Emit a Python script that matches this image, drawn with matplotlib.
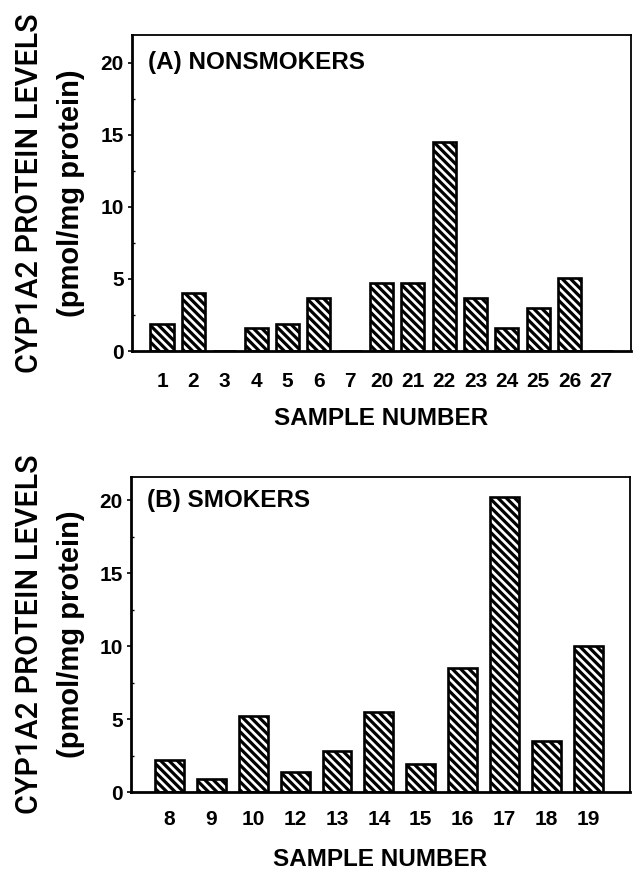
import matplotlib
matplotlib.use("Agg")
import matplotlib.pyplot as plt
from matplotlib.ticker import MultipleLocator
from matplotlib import font_manager

# ---- data ----
nonsmoker_samples = ["1", "2", "3", "4", "5", "6", "7", "20", "21", "22", "23", "24", "25", "26", "27"]
nonsmoker_levels = [1.9, 4.0, 0, 1.6, 1.9, 3.7, 0, 4.7, 4.7, 14.5, 3.7, 1.6, 3.0, 5.1, 0]

smoker_samples = ["8", "9", "10", "12", "13", "14", "15", "16", "17", "18", "19"]
smoker_levels = [2.2, 0.9, 5.2, 1.4, 2.8, 5.5, 1.9, 8.5, 20.2, 3.5, 10.0]

ylabel_line1 = "CYP1A2 PROTEIN LEVELS"
ylabel_line2 = "(pmol/mg protein)"
xlabel = "SAMPLE NUMBER"
titles = ["(A) NONSMOKERS", "(B) SMOKERS"]

plt.rcParams['hatch.linewidth'] = 2.3
plt.rcParams['font.family'] = ['Liberation Sans', 'DejaVu Sans']

names = {f.name for f in font_manager.fontManager.ttflist}
narrow = 'Liberation Sans Narrow' in names
title_family = ['Liberation Sans Narrow', 'Liberation Sans'] if narrow else ['Liberation Sans']
title_size = 21 if narrow else 17.5
label_size = 21 if narrow else 17.5

roboto_medium = any(f.name == 'Roboto' and f.weight in (500, 'medium') for f in font_manager.fontManager.ttflist)

W, H = 634, 872
fig = plt.figure(figsize=(W / 100, H / 100), dpi=100)


def px_axes(left, top, right, bottom):
    return fig.add_axes([left / W, 1 - bottom / H, (right - left) / W, (bottom - top) / H])


panels = [
    dict(box=(132, 35, 631, 351), cats=nonsmoker_samples, vals=nonsmoker_levels,
         title=titles[0], xlim=(-0.96, 14.96), ylim=(0, 21.94), width=0.74, pad=15),
    dict(box=(131, 477, 630, 792), cats=smoker_samples, vals=smoker_levels,
         title=titles[1], xlim=(-0.92, 11.0), ylim=(0, 21.6), width=0.69, pad=13),
]

for p in panels:
    l, t, r, b = p['box']
    ax = px_axes(l, t, r, b)
    x = list(range(len(p['cats'])))
    ax.bar(x, p['vals'], width=p['width'], color='white', edgecolor='black',
           linewidth=1.9, hatch='\\\\\\\\', zorder=2)
    ax.set_xlim(*p['xlim'])
    ax.set_ylim(*p['ylim'])
    ax.set_xticks(x)
    ax.set_xticklabels(p['cats'], fontsize=15, fontweight='bold')
    ax.tick_params(axis='x', length=0, pad=p['pad'])
    ax.set_yticks([0, 5, 10, 15, 20])
    ax.yaxis.set_minor_locator(MultipleLocator(2.5))
    ax.tick_params(axis='y', which='major', direction='out', length=3, width=1.2,
                   labelsize=15, pad=3)
    ax.tick_params(axis='y', which='minor', direction='in', length=2, width=1)
    for lab in ax.get_yticklabels():
        lab.set_fontweight('bold')
    for s in ['left', 'bottom']:
        ax.spines[s].set_linewidth(2.0)
    for s in ['top', 'right']:
        ax.spines[s].set_linewidth(1.3)
    ax.text(0.032, 20, p['title'], transform=ax.get_yaxis_transform(),
            fontsize=title_size, fontweight='bold', family=title_family,
            va='center', ha='left')
    ax.text(0.5, -(67 / (b - t)), xlabel, transform=ax.transAxes,
            fontsize=label_size, fontweight='bold', family=title_family,
            va='center', ha='center')
    yc = 1 - ((t + b) / 2) / H
    if roboto_medium:
        fig.text(30 / W, yc, ylabel_line1, rotation=90, fontsize=22,
                 family=['Roboto'], fontweight=500, va='center', ha='center')
    else:
        fig.text(30 / W, yc, ylabel_line1, rotation=90, fontsize=20,
                 va='center', ha='center')
    fig.text(71 / W, yc, ylabel_line2, rotation=90, fontsize=21, fontweight='bold',
             va='center', ha='center')

fig.savefig("out.png", dpi=100)
